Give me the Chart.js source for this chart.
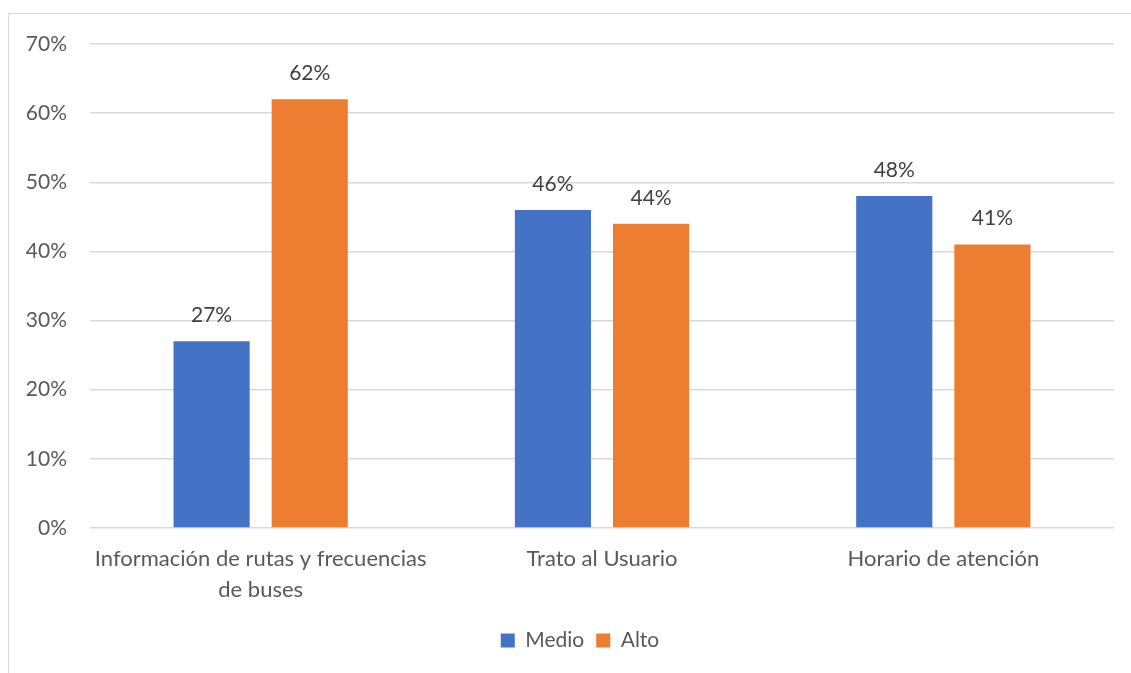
<!DOCTYPE html>
<html>
<head>
<meta charset="utf-8">
<script src="https://cdn.jsdelivr.net/npm/chart.js@4/dist/chart.umd.min.js"></script>
<style>
  html, body { margin: 0; padding: 0; background: #fff; }
  #wrap { position: relative; width: 1131px; height: 673px; overflow: hidden; }
  #frame { position: absolute; left: 8px; top: 13px; width: 1130px; height: 700px;
           border: 1.5px solid #d9d9d9; box-sizing: border-box; }
  canvas { position: absolute; left: 0; top: 0; }
</style>
</head>
<body>
<div id="wrap">
  <div id="frame"></div>
  <canvas id="chart" width="1131" height="673"></canvas>
</div>
<script>
// Datos del gráfico
const categorias = [
    ['Información de rutas y frecuencias', 'de buses'],
    'Trato al Usuario',
    'Horario de atención'
];
const medio = [27, 46, 48];
const alto = [62, 44, 41];
const ticksY = [0, 10, 20, 30, 40, 50, 60, 70];

const FUENTE = 'Lato, "Open Sans", sans-serif';
const TAM = 21;

// Etiquetas de valor encima de cada barra
const etiquetasValor = {
    id: 'etiquetasValor',
    afterDatasetsDraw(chart) {
        const ctx = chart.ctx;
        ctx.save();
        ctx.font = TAM + 'px ' + FUENTE;
        ctx.fillStyle = '#404040';
        ctx.textAlign = 'center';
        ctx.textBaseline = 'middle';
        chart.data.datasets.forEach((ds, i) => {
            chart.getDatasetMeta(i).data.forEach((bar, j) => {
                ctx.fillText(ds.data[j] + '%', bar.x, bar.y - 26);
            });
        });
        ctx.restore();
    }
};

// Desplaza la leyenda para centrarla bajo las barras
const leyendaCentrada = {
    id: 'leyendaCentrada',
    afterLayout(chart) {
        chart.legend.left += 23;
        chart.legend.right += 23;
    }
};

new Chart(document.getElementById('chart'), {
    type: 'bar',
    data: {
        labels: categorias,
        datasets: [{
            label: 'Medio',
            data: medio,
            backgroundColor: '#4472C4'
        }, {
            label: 'Alto',
            data: alto,
            backgroundColor: '#ED7D31'
        }]
    },
    options: {
        responsive: false,
        animation: false,
        categoryPercentage: 0.575,
        barPercentage: 0.776,
        layout: {
            padding: { top: 44, right: 17, bottom: 12, left: 0 }
        },
        plugins: {
            legend: {
                position: 'bottom',
                labels: {
                    boxWidth: 14,
                    boxHeight: 14,
                    color: '#595959',
                    font: { family: FUENTE, size: TAM },
                    padding: 12
                }
            },
            tooltip: { enabled: false }
        },
        scales: {
            x: {
                grid: { display: false },
                border: { display: false },
                ticks: {
                    color: '#595959',
                    font: { family: FUENTE, size: 22, lineHeight: 1.4 },
                    maxRotation: 0,
                    padding: 8
                },
                afterFit(scale) { scale.height = 90; }
            },
            y: {
                min: 0,
                max: 70,
                afterBuildTicks(scale) {
                    scale.ticks = ticksY.map(v => ({ value: v }));
                },
                grid: { color: '#d9d9d9', lineWidth: 1.5, drawTicks: false },
                border: { display: false },
                ticks: {
                    color: '#595959',
                    font: { family: FUENTE, size: TAM },
                    padding: 23,
                    callback: v => v + '%'
                },
                afterFit(scale) { scale.width = 90; }
            }
        }
    },
    plugins: [etiquetasValor, leyendaCentrada]
});
</script>
</body>
</html>
